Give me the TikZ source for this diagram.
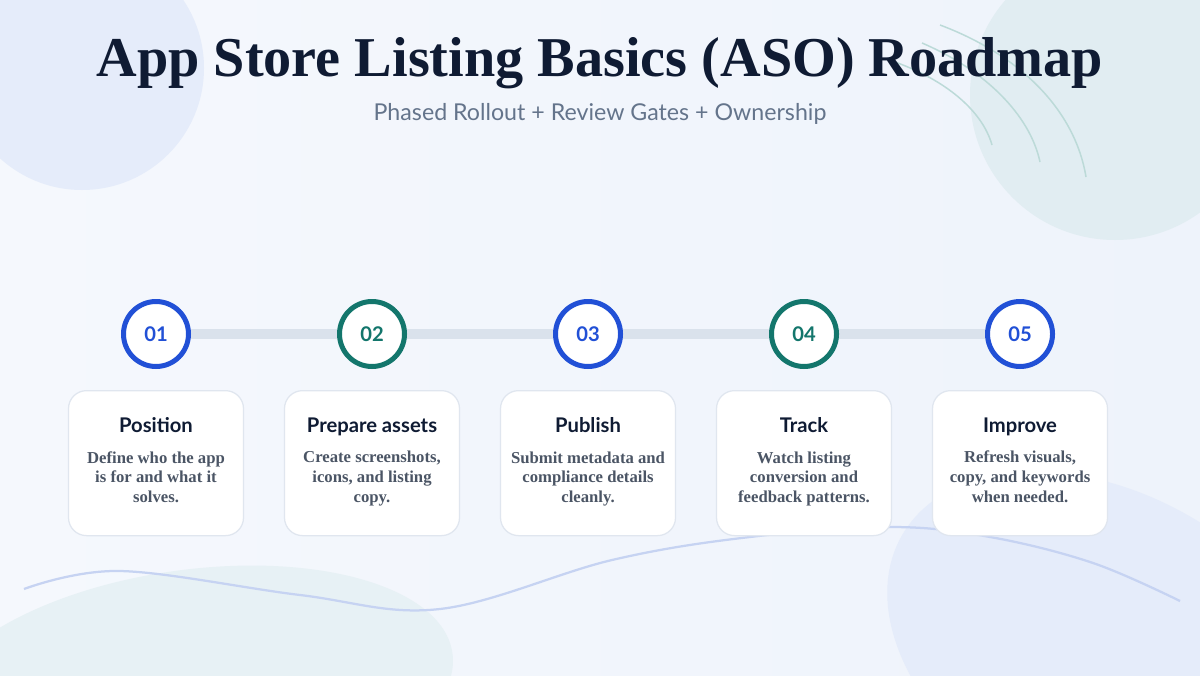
\documentclass[tikz,border=0pt]{standalone}
\usepackage{fontspec}
\setmainfont{Liberation Serif}
\newfontfamily\headsans{Lato}
\usepackage{xcolor}
\usetikzlibrary{positioning}

\definecolor{inkNavy}{HTML}{0F1B33}
\definecolor{subGray}{HTML}{64748B}
\definecolor{bodyGray}{HTML}{4B5565}
\definecolor{stepBlue}{HTML}{2150D6}
\definecolor{stepTeal}{HTML}{13766C}
\definecolor{trackGray}{HTML}{DAE2EC}
\definecolor{cardLine}{HTML}{E0E6EF}
\definecolor{bgLeft}{HTML}{F5F8FD}
\definecolor{bgRight}{HTML}{EEF3FB}
\definecolor{blobBlue}{HTML}{E5ECFA}
\definecolor{blobTeal}{HTML}{E1EDF2}
\definecolor{blobMint}{HTML}{E7F1F5}
\definecolor{arcTeal}{HTML}{BCDAD8}
\definecolor{waveBlue}{HTML}{C6D3F2}

\newcommand{\cardtitle}[1]{\textcolor{inkNavy}{\headsans\bfseries\fontsize{11.5}{14}\selectfont\vphantom{Pg}#1}}

\pgfdeclarelayer{backdrop}
\pgfsetlayers{backdrop,main}

\begin{document}
\begin{tikzpicture}[
        x=0.2mm, y=-0.2mm,
        node distance=4.2mm,
        stepdot/.style={circle, draw=#1, line width=1mm, fill=white, minimum size=13mm, inner sep=0pt, text=#1, font=\headsans\bfseries\fontsize{11.5}{13}\selectfont},
        card/.style={rectangle, rounded corners=3.6mm, draw=cardLine, line width=0.25mm, fill=white, minimum width=35mm, minimum height=29mm, align=center, inner sep=0pt, text=bodyGray, font=\bfseries\fontsize{9.5}{11.3}\selectfont},
        track/.style={line width=2mm, draw=trackGray},
        blob/.style={fill=#1, draw=none},
        thinarc/.style={draw=arcTeal, line width=0.3mm},
        wave/.style={draw=waveBlue, line width=0.45mm}
    ]
        \useasboundingbox (0,0) rectangle (1200,675);

        % heading
        \node[text=inkNavy, font=\bfseries\fontsize{32}{36}\selectfont] (title) at (600,63) {App Store Listing Basics (ASO) Roadmap};
        \node[text=subGray, font=\headsans\fontsize{13.2}{16}\selectfont] (subtitle) at (600,114) {Phased Rollout + Review Gates + Ownership};

        % phase markers
        \node[stepdot=stepBlue] (c1) at (156,334) {01};
        \node[stepdot=stepTeal, on grid, right=43.2mm of c1] (c2) {02};
        \node[stepdot=stepBlue, on grid, right=43.2mm of c2] (c3) {03};
        \node[stepdot=stepTeal, on grid, right=43.2mm of c3] (c4) {04};
        \node[stepdot=stepBlue, on grid, right=43.2mm of c4] (c5) {05};

        % cards
        \node[card, below=of c1] (card1) {\cardtitle{Position}\\[6pt]Define who the app\\is for and what it\\solves.\strut};
        \node[card, below=of c2] (card2) {\cardtitle{Prepare assets}\\[6pt]Create screenshots,\\icons, and listing\\copy.\strut};
        \node[card, below=of c3] (card3) {\cardtitle{Publish}\\[6pt]Submit metadata and\\compliance details\\cleanly.\strut};
        \node[card, below=of c4] (card4) {\cardtitle{Track}\\[6pt]Watch listing\\conversion and\\feedback patterns.\strut};
        \node[card, below=of c5] (card5) {\cardtitle{Improve}\\[6pt]Refresh visuals,\\copy, and keywords\\when needed.\strut};

        \begin{pgfonlayer}{backdrop}
            \begin{scope}
                \clip (0,0) rectangle (1200,675);
                \shade[left color=bgLeft, right color=bgRight] (0,0) rectangle (1200,675);
                \fill[blob=blobBlue] (82,68) circle[radius=122];
                \fill[blob=blobTeal] (1115,95) circle[radius=145];
                \fill[blob=blobMint, rotate around={8:(190,690)}] (190,690) ellipse[x radius=265, y radius=120];
                \fill[blob=blobBlue, rotate around={-30:(1110,655)}] (1110,655) ellipse[x radius=240, y radius=160];
                \draw[thinarc] (940,25) .. controls (1020,55) and (1075,110) .. (1086,177);
                \draw[thinarc] (922,43) .. controls (985,70) and (1030,115) .. (1040,162);
                \draw[thinarc] (895,62) .. controls (945,80) and (982,110) .. (992,145);
                \draw[wave] plot[smooth, tension=0.6] coordinates {(24,589) (120,571) (300,595) (440,609) (612,560) (750,537) (890,527) (990,537) (1093,563) (1180,601)};
            \end{scope}
            % connector behind the markers
            \draw[track] (c1) -- (c5);
        \end{pgfonlayer}
    \end{tikzpicture}
\end{document}
